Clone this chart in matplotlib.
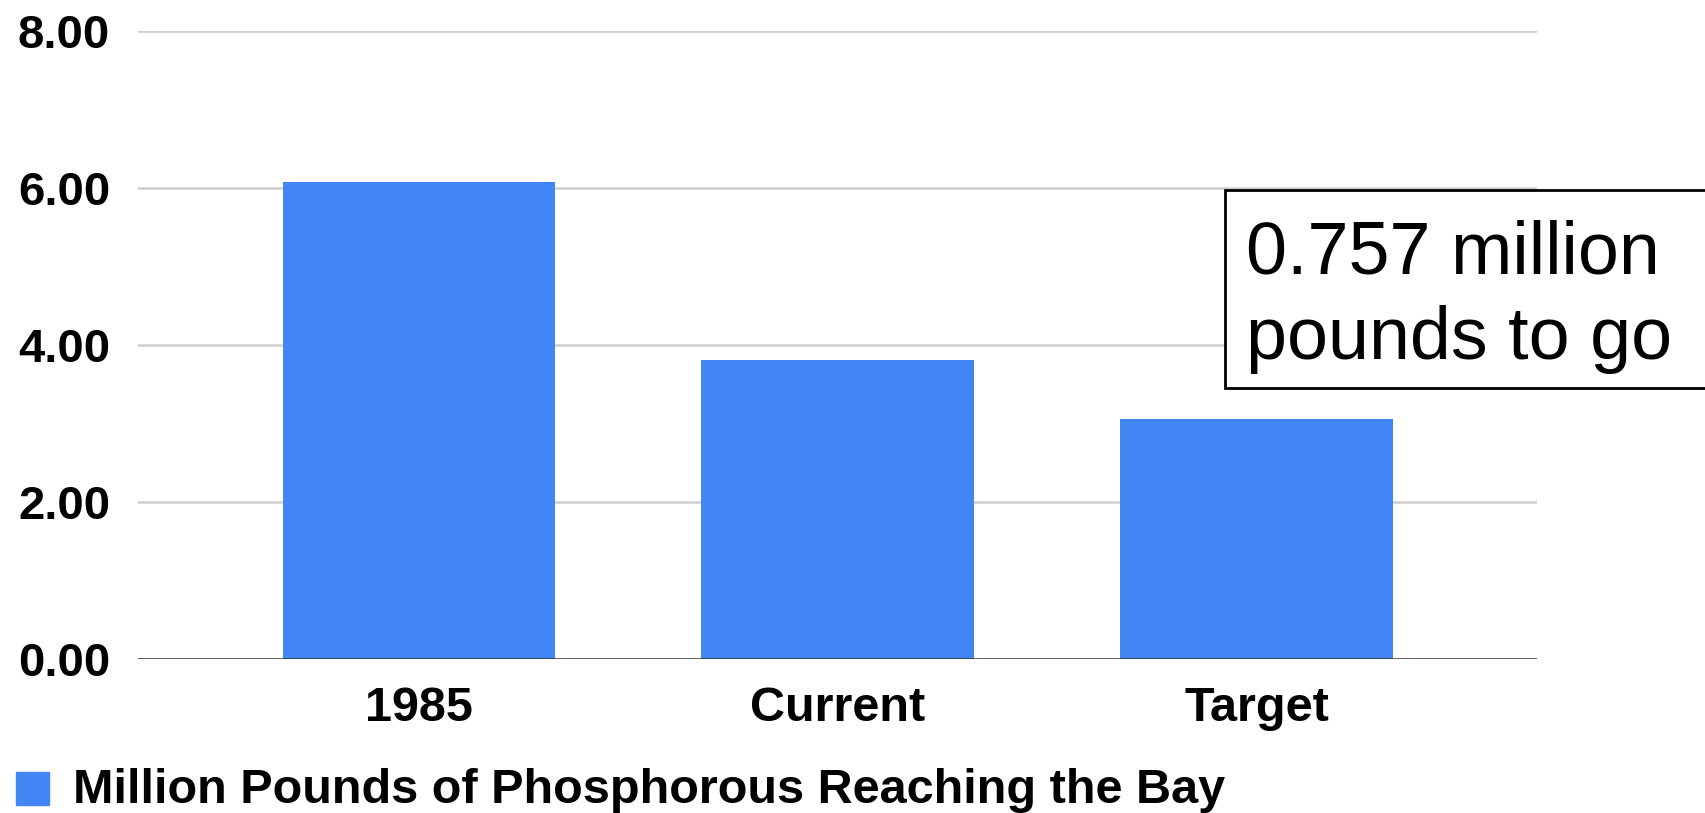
import matplotlib
matplotlib.use("Agg")
import matplotlib.pyplot as plt
from matplotlib.patches import Rectangle

# data
categories = ["1985", "Current", "Target"]
values = [6.08, 3.81, 3.05]
yticks = [0, 2, 4, 6, 8]
series_name = "Million Pounds of Phosphorous Reaching the Bay"
note = "0.757 million\npounds to go"

bar_color = "#4285F4"
plt.rcParams["font.family"] = ["Liberation Sans", "DejaVu Sans"]

fig = plt.figure(figsize=(17.06, 8.13), dpi=100)
ax = fig.add_axes([0.0809, 0.19, 0.901 - 0.0809, 0.962 - 0.19])

x = list(range(len(categories)))
ax.bar(x, values, width=0.65, color=bar_color, zorder=3)

ax.set_xlim(-0.67, 2.67)
ax.set_ylim(0, 8)
ax.set_yticks(yticks)
ax.set_yticklabels([f"{v:.2f}" for v in yticks], fontsize=34, fontweight="bold")
ax.set_xticks(x)
ax.set_xticklabels(categories, fontsize=35, fontweight="bold")
ax.tick_params(axis="y", length=0, pad=20)
ax.tick_params(axis="x", length=0, pad=20)

# gridlines
for v in yticks[1:]:
    ax.axhline(v, color="#cfcfcf", lw=1.8, zorder=1)
ax.axhline(0, color="#333333", lw=1.8, zorder=4)

for s in ax.spines.values():
    s.set_visible(False)

# legend
fig.patches.append(Rectangle((16 / 1706, 1 - 805 / 813), 33 / 1706, 33 / 813,
                             transform=fig.transFigure, color=bar_color))
fig.text(73 / 1706, 1 - 803 / 813, series_name, fontsize=35, fontweight="bold",
         va="baseline", ha="left")

# annotation box
fig.patches.append(Rectangle((1225 / 1706, 1 - 388 / 813), 500 / 1706, 198 / 813,
                             transform=fig.transFigure, facecolor="white",
                             edgecolor="black", lw=2, zorder=5, clip_on=False))
fig.text(1246 / 1706, 1 - 274 / 813, note.split("\n")[0], fontsize=53,
         va="baseline", ha="left", zorder=6)
fig.text(1246 / 1706, 1 - 359 / 813, note.split("\n")[1], fontsize=53,
         va="baseline", ha="left", zorder=6)

fig.savefig("out.png", dpi=100)
